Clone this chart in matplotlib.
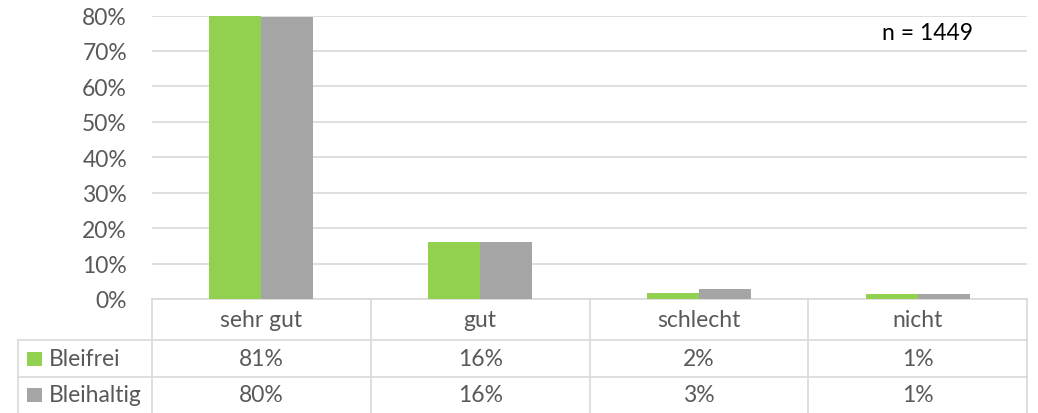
import matplotlib
matplotlib.use("Agg")
import matplotlib.pyplot as plt
from matplotlib.transforms import blended_transform_factory
from matplotlib.lines import Line2D
from matplotlib.patches import Rectangle

categories = ["sehr gut", "gut", "schlecht", "nicht"]
series_names = ["Bleifrei", "Bleihaltig"]
bleifrei = [80.6, 16.1, 1.8, 1.4]
bleihaltig = [79.7, 16.1, 2.7, 1.3]
bleifrei_labels = ["81%", "16%", "2%", "1%"]
bleihaltig_labels = ["80%", "16%", "3%", "1%"]
yticks = [0, 10, 20, 30, 40, 50, 60, 70, 80]
note = "n = 1449"

GREEN = "#92D050"
GRAY = "#A5A5A5"
GRID = "#D9D9D9"
TXT = "#595959"
FONT = ["Lato", "DejaVu Sans"]
plt.rcParams["font.family"] = FONT
FS = 16.5

W, H = 1038, 414
fig = plt.figure(figsize=(W / 100, H / 100), dpi=100)
ax = fig.add_axes([152 / W, 1 - 300 / H, (1027 - 152) / W, (300 - 16.5) / H])

x = list(range(len(categories)))
bw = 0.238
ax.bar([i - bw / 2 for i in x], bleifrei, width=bw, color=GREEN, zorder=3)
ax.bar([i + bw / 2 for i in x], bleihaltig, width=bw, color=GRAY, zorder=3)

ax.set_xlim(-0.5, len(categories) - 0.5)
ax.set_ylim(0, 80)
ax.set_yticks(yticks)
ax.set_yticklabels([f"{v}%" for v in yticks], color=TXT, fontsize=FS)
ax.tick_params(axis="y", length=0, pad=18)
ax.set_xticks([])
for s in ["left", "right", "top"]:
    ax.spines[s].set_visible(False)
ax.spines["bottom"].set_color(GRID)
ax.spines["bottom"].set_linewidth(1.2)
ax.grid(axis="y", color=GRID, linewidth=1.2, zorder=0)
ax.set_axisbelow(True)

ax.text(928 / W, 1 - 33 / H, note, transform=fig.transFigure, ha="center",
        va="center", fontsize=FS, color="black")

# data table
bt = blended_transform_factory(ax.transData, fig.transFigure)
def fy(p):
    return 1 - p / H

for b in [i - 0.5 for i in range(len(categories) + 1)]:
    fig.add_artist(Line2D([b, b], [fy(300), fy(414)], transform=bt, color=GRID, lw=1.2))
fig.add_artist(Line2D([18 / W, 18 / W], [fy(341), fy(414)], transform=fig.transFigure, color=GRID, lw=1.2))
for yy in [341, 378]:
    fig.add_artist(Line2D([18 / W, 1027 / W], [fy(yy), fy(yy)], transform=fig.transFigure, color=GRID, lw=1.2))

for i, c in enumerate(categories):
    fig.text(i, fy(320.5), c, transform=bt, ha="center", va="center", fontsize=FS, color=TXT)
    fig.text(i, fy(359.5), bleifrei_labels[i], transform=bt, ha="center", va="center", fontsize=FS, color=TXT)
    fig.text(i, fy(396), bleihaltig_labels[i], transform=bt, ha="center", va="center", fontsize=FS, color=TXT)

for name, col, yc in [(series_names[0], GREEN, 359.5), (series_names[1], GRAY, 396)]:
    fig.add_artist(Rectangle((27 / W, fy(yc + 7)), 15 / W, 14 / H, transform=fig.transFigure,
                             facecolor=col, edgecolor="none"))
    fig.text(49 / W, fy(yc), name, transform=fig.transFigure, ha="left", va="center",
             fontsize=FS, color=TXT)

fig.savefig("out.png", dpi=100)
